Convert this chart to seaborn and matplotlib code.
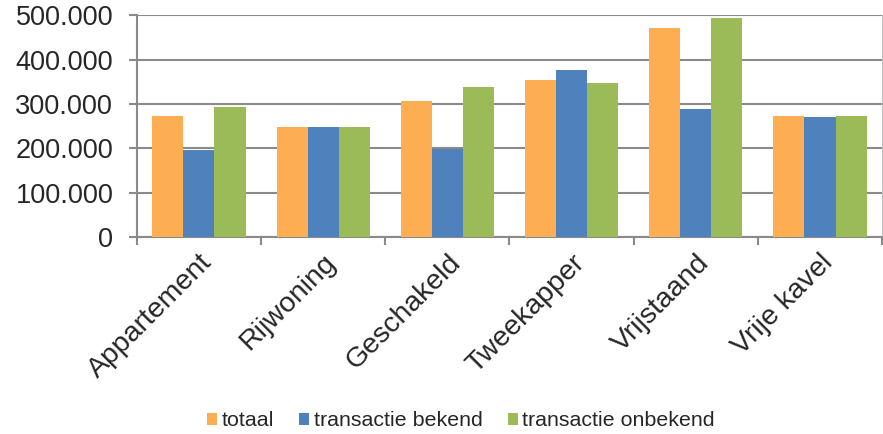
import pandas as pd
import seaborn as sns
import matplotlib.pyplot as plt
import matplotlib.transforms as mtransforms
from matplotlib.ticker import FuncFormatter, FixedLocator

categories = ['Appartement', 'Rijwoning', 'Geschakeld', 'Tweekapper', 'Vrijstaand', 'Vrije kavel']
totaal = [272500, 247000, 307000, 355000, 471000, 272500]
bekend = [196000, 247000, 197500, 376000, 287500, 269500]
onbekend = [293000, 247000, 338500, 348000, 493000, 273000]
series = ['totaal', 'transactie bekend', 'transactie onbekend']
colors = ['#FDAE53', '#4F81BD', '#9BBB59']

df = pd.DataFrame({'cat': categories * 3,
                   'serie': [s for s in series for _ in categories],
                   'waarde': totaal + bekend + onbekend})

sns.set_style('white')
plt.rcParams['font.family'] = ['Liberation Sans', 'DejaVu Sans']

fig = plt.figure(figsize=(8.83, 4.34), dpi=100)
ax = fig.add_axes([0.155, 0.454, 0.844, 0.511])

sns.barplot(data=df, x='cat', y='waarde', hue='serie', palette=colors,
            width=0.75, saturation=1, ax=ax, zorder=3, edgecolor='none')

ax.set_ylim(0, 500000)
ax.set_xlim(-0.5, len(categories) - 0.5)
ax.set_yticks(range(0, 500001, 100000))
ax.yaxis.set_major_formatter(FuncFormatter(lambda v, p: f'{int(v):,}'.replace(',', '.')))
ax.yaxis.grid(True, color='#8a8a8a', linewidth=1.5, zorder=0)
ax.set_axisbelow(True)

ax.set_xlabel('')
ax.set_ylabel('')
ax.set_xticks(range(len(categories)))
ax.set_xticklabels(categories, rotation=45, ha='right', rotation_mode='anchor', fontsize=20.5)
# schuif de schuine labels een paar pixels naar rechts
shift = mtransforms.ScaledTranslation(5 / 100, 0, fig.dpi_scale_trans)
for lbl in ax.get_xticklabels():
    lbl.set_transform(lbl.get_transform() + shift)
ax.xaxis.set_minor_locator(FixedLocator([i - 0.5 for i in range(len(categories) + 1)]))
ax.tick_params(axis='x', which='major', length=0, pad=9)
ax.tick_params(axis='x', which='minor', length=6, width=1.5, color='#8a8a8a', bottom=True)
ax.tick_params(axis='y', length=6, width=1.5, color='#8a8a8a', left=True, labelsize=19.5, pad=11)

for side in ['left', 'bottom', 'right']:
    ax.spines[side].set_color('#8a8a8a')
    ax.spines[side].set_linewidth(1.5)
ax.spines['right'].set_linewidth(0.8)
ax.spines['right'].set_color('#c0c0c0')
ax.spines['top'].set_visible(False)

handles, labels = ax.get_legend_handles_labels()
ax.legend(handles, labels, loc='center', bbox_to_anchor=(0.522, 0.03),
          bbox_transform=fig.transFigure, ncol=3, frameon=False, fontsize=15.4,
          handlelength=0.47, handleheight=0.47, handletextpad=0.2, columnspacing=1.2)

fig.savefig('out.png', dpi=100)
